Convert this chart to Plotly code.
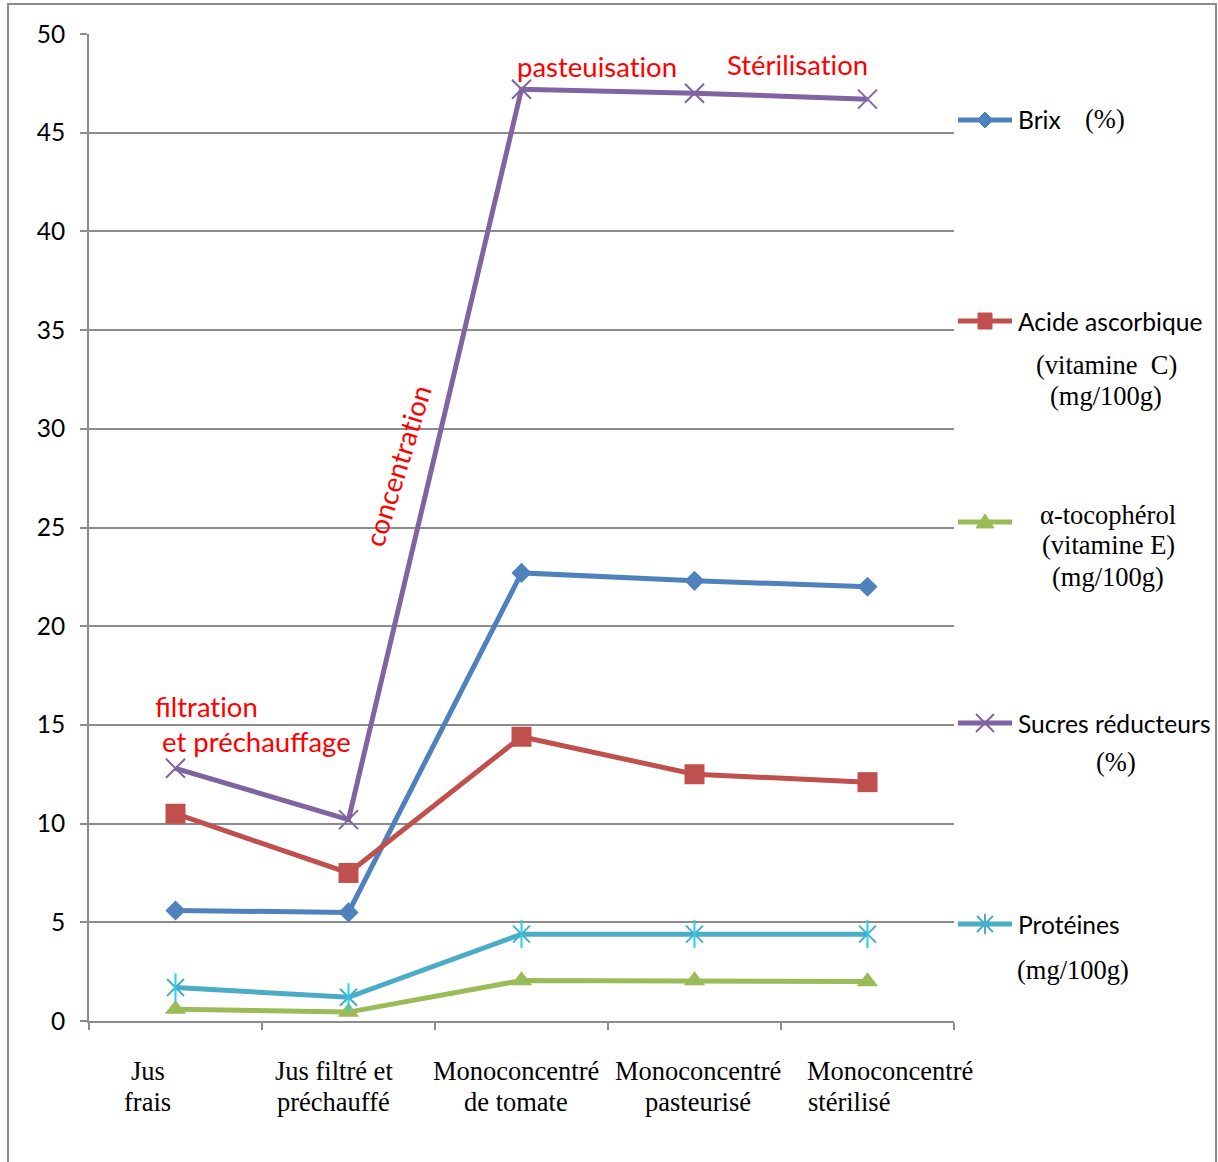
import plotly.graph_objects as go

# Processing stages (x categories) and their two-line display labels
stages = ["Jus frais", "Jus filtré et préchauffé", "Monoconcentré de tomate",
          "Monoconcentré pasteurisé", "Monoconcentré stérilisé"]
stage_line1 = ["Jus", "Jus filtré et", "Monoconcentré", "Monoconcentré", "Monoconcentré"]
stage_line2 = ["frais", "préchauffé", "de tomate", "pasteurisé", "stérilisé"]

# Measured values per stage
brix = [5.6, 5.5, 22.7, 22.3, 22.0]            # Brix (%)
vit_c = [10.5, 7.5, 14.4, 12.5, 12.1]          # acide ascorbique (mg/100g)
vit_e = [0.6, 0.45, 2.05, 2.05, 2.0]           # alpha-tocophérol (mg/100g)
sucres = [12.8, 10.2, 47.2, 47.0, 46.7]        # sucres réducteurs (%)
proteines = [1.7, 1.2, 4.4, 4.4, 4.4]          # protéines (mg/100g)

y_ticks = [0, 5, 10, 15, 20, 25, 30, 35, 40, 45, 50]

W, H = 1218, 1162
SANS = "Lato"
SERIF = "Liberation Serif"
GRID = "#8c8c8c"
BLUE, RED, GREEN, PURPLE, CYAN = "#4F81BD", "#C0504D", "#9BBB59", "#8064A2", "#4BACC6"
NOLIG = "\u200c"  # keeps "t" and "i" as separate glyphs


def px(x):
    return x / W


def py(y):
    return 1 - y / H


fig = go.Figure()

LW = 5
fig.add_trace(go.Scatter(x=stages, y=brix, mode="lines+markers", name="Brix",
                         line=dict(color=BLUE, width=LW),
                         marker=dict(symbol="diamond", size=15.5, color=BLUE)))
fig.add_trace(go.Scatter(x=stages, y=vit_c, mode="lines+markers", name="Acide ascorbique",
                         line=dict(color=RED, width=LW),
                         marker=dict(symbol="square", size=20, color=RED)))
fig.add_trace(go.Scatter(x=stages, y=vit_e, mode="lines+markers", name="α-tocophérol",
                         line=dict(color=GREEN, width=LW),
                         marker=dict(symbol="triangle-up", size=18.5, color=GREEN)))
fig.add_trace(go.Scatter(x=stages, y=sucres, mode="lines+markers", name="Sucres réducteurs",
                         line=dict(color=PURPLE, width=LW),
                         marker=dict(symbol="x-thin-open", size=19,
                                     line=dict(color=PURPLE, width=2))))
fig.add_trace(go.Scatter(x=stages, y=proteines, mode="lines+markers", name="Protéines",
                         line=dict(color=CYAN, width=LW),
                         marker=dict(symbol="x-thin-open", size=17,
                                     line=dict(color=CYAN, width=2))))
# vertical stroke completing the star marker
fig.add_trace(go.Scatter(x=stages, y=proteines, mode="markers", showlegend=False,
                         marker=dict(symbol="line-ns-open", size=20,
                                     line=dict(color=CYAN, width=2))))

annotations = []

# category labels under the x axis, one annotation per text line
cat_font = dict(family=SERIF, size=26.5, color="black")
label_shift = [-28, -15, -6, 3, 22]
for st, l1, l2, sh in zip(stages, stage_line1, stage_line2, label_shift):
    annotations.append(dict(x=st, xref="x", y=py(1071), yref="paper",
                            xanchor="center", yanchor="middle", xshift=sh,
                            text=l1, showarrow=False, font=cat_font))
    if st == stages[-1]:
        # last label: second line starts at the left edge of the first
        annotations.append(dict(x=st, xref="x", y=py(1102), yref="paper",
                                xanchor="left", yanchor="middle", xshift=-62,
                                text=l2, showarrow=False, font=cat_font))
    else:
        annotations.append(dict(x=st, xref="x", y=py(1102), yref="paper",
                                xanchor="center", yanchor="middle", xshift=sh,
                                text=l2, showarrow=False, font=cat_font))

# process step notes
red = dict(family=SANS, size=27.5, color="#ff0000")
notes = [
    ("pasteuisation", 597, 67, 0),
    ("Stérilisation", 797, 64, 0),
    ("filtration", 207, 706, 0),
    ("et préchauffage", 256, 742, 0),
    ("concentration", 397, 466, -73),
]
for txt, x, y, ang in notes:
    annotations.append(dict(x=px(x), y=py(y), xref="paper", yref="paper",
                            text=txt.replace("ti", "t" + NOLIG + "i"),
                            showarrow=False, textangle=ang,
                            xanchor="center", yanchor="middle", font=red))

# legend texts
sans_lab = dict(family=SANS, size=24.6, color="black")
serif_lab = dict(family=SERIF, size=26.5, color="black")
leg_texts = [
    ("Brix", 1016, 120, "left", sans_lab),
    ("(%)", 1083, 119, "left", serif_lab),
    ("Acide ascorbique", 1016, 321, "left", sans_lab),
    ("(vitamine  C)", 1106, 365, "center", serif_lab),
    ("(mg/100g)", 1106, 396, "center", serif_lab),
    ("α-tocophérol", 1108, 515, "center", serif_lab),
    ("(vitamine E)", 1108, 545, "center", serif_lab),
    ("(mg/100g)", 1108, 577, "center", serif_lab),
    ("Sucres réducteurs", 1016, 723, "left", sans_lab),
    ("(%)", 1116, 762, "center", serif_lab),
    ("Protéines", 1016, 924, "left", sans_lab),
    ("(mg/100g)", 1073, 970, "center", serif_lab),
]
for txt, x, y, anc, f in leg_texts:
    annotations.append(dict(x=px(x), y=py(y), xref="paper", yref="paper",
                            text=txt, showarrow=False, xanchor=anc,
                            yanchor="middle", font=f))

shapes = []
# outer frame
shapes.append(dict(type="rect", xref="paper", yref="paper",
                   x0=px(8), x1=px(1216), y0=py(1190), y1=py(4),
                   line=dict(color="#8a8a8a", width=2), fillcolor="rgba(0,0,0,0)",
                   layer="below"))

# legend keys: a line with the series marker in its middle
key_paths = {
    "diamond": ("M0,8 L8,0 L0,-8 L-8,0 Z", True),
    "square": ("M-7,-8 L7,-8 L7,8 L-7,8 Z", True),
    "triangle": ("M-9,-6 L9,-6 L0,8 Z", True),
    "cross": ("M-9,-9 L9,9 M-9,9 L9,-9", False),
    "star": ("M-8,-8 L8,8 M-8,8 L8,-8 M0,-10 L0,10", False),
}
legend_keys = [(BLUE, "diamond", 120), (RED, "square", 321), (GREEN, "triangle", 522),
               (PURPLE, "cross", 723), (CYAN, "star", 924)]
for col, key, y in legend_keys:
    shapes.append(dict(type="line", xref="paper", yref="paper",
                       x0=px(958), x1=px(1012), y0=py(y), y1=py(y),
                       line=dict(color=col, width=LW)))
    path, filled = key_paths[key]
    shapes.append(dict(type="path", xref="paper", yref="paper",
                       xsizemode="pixel", ysizemode="pixel",
                       xanchor=px(985), yanchor=py(y), path=path,
                       fillcolor=col if filled else "rgba(0,0,0,0)",
                       line=dict(color=col, width=1 if filled else 2)))

fig.update_layout(
    width=W, height=H,
    margin=dict(l=0, r=0, t=0, b=0, autoexpand=False),
    paper_bgcolor="white", plot_bgcolor="white",
    showlegend=False,
    annotations=annotations,
    shapes=shapes,
    xaxis=dict(domain=[px(89), px(954)], type="category", range=[-0.5, 4.5],
               showgrid=False, showline=True, linecolor=GRID, linewidth=2,
               ticks="outside", tickson="boundaries", ticklen=7, tickwidth=2,
               tickcolor=GRID, showticklabels=False, zeroline=False,
               automargin=False),
    yaxis=dict(domain=[py(1021), py(34)], range=[0, 50], tickvals=y_ticks,
               showgrid=True, gridcolor=GRID, gridwidth=2,
               showline=True, linecolor=GRID, linewidth=2,
               ticks="outside", ticklen=7, tickwidth=2, tickcolor=GRID,
               ticklabelstandoff=10, zeroline=False, automargin=False,
               tickfont=dict(family=SANS, size=24.5, color="black")),
)

fig.write_html("out.html")
